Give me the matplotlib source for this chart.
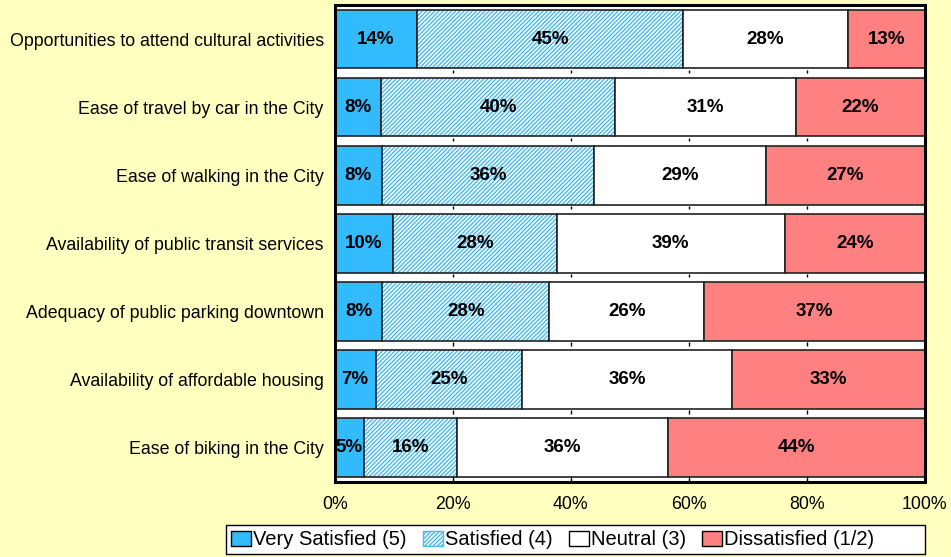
import numpy as np
import matplotlib.pyplot as plt
from matplotlib.patches import Patch, Rectangle

plt.rcParams['font.family'] = ['Liberation Sans', 'DejaVu Sans']
plt.rcParams['hatch.linewidth'] = 1.0

categories = ['Opportunities to attend cultural activities',
              'Ease of travel by car in the City',
              'Ease of walking in the City',
              'Availability of public transit services',
              'Adequacy of public parking downtown',
              'Availability of affordable housing',
              'Ease of biking in the City']
very_satisfied = [14, 8, 8, 10, 8, 7, 5]
satisfied = [45, 40, 36, 28, 28, 25, 16]
neutral = [28, 31, 29, 39, 26, 36, 36]
dissatisfied = [13, 22, 27, 24, 37, 33, 44]
series_names = ['Very Satisfied (5)', 'Satisfied (4)', 'Neutral (3)', 'Dissatisfied (1/2)']
xtick_labels = ['0%', '20%', '40%', '60%', '80%', '100%']

bg = '#FFFFC0'
c_vs = '#33BBFF'
c_sat = '#45BCF2'
c_neu = '#FFFFFF'
c_dis = '#FF8080'

raw = np.array([very_satisfied, satisfied, neutral, dissatisfied], dtype=float)
pct = raw / raw.sum(axis=0) * 100  # 100% stacked like excel

fig = plt.figure(figsize=(9.51, 5.57), dpi=100, facecolor=bg)
ax = fig.add_axes([0.352, 0.135, 0.6205, 0.856])
ax.set_facecolor('white')

y = np.arange(len(categories))
h = 0.86
left = np.zeros(len(categories))
for i in range(4):
    if i == 1:
        ax.barh(y, pct[i], h, left=left, color='white', edgecolor=c_sat,
                hatch='////////', linewidth=0)
        ax.barh(y, pct[i], h, left=left, fill=False, edgecolor='#222222', linewidth=1.2)
    else:
        col = [c_vs, None, c_neu, c_dis][i]
        ax.barh(y, pct[i], h, left=left, color=col, edgecolor='#222222', linewidth=1.2)
    for j in range(len(categories)):
        ax.text(left[j] + pct[i][j] / 2, y[j], f'{int(raw[i][j])}%', ha='center', va='center',
                fontsize=13.5, fontweight='bold', color='black')
    left += pct[i]

# small tick marks at the top of each gap, as in the original
ticks = np.arange(0, 101, 20)
for j in range(len(categories)):
    ax.vlines(ticks[1:-1], y[j] + 0.5 - 0.05, y[j] + 0.5, color='black', linewidth=1)

ax.set_xlim(0, 100)
ax.set_ylim(len(categories) - 0.5, -0.5)
ax.set_yticks(y)
ax.set_yticklabels(categories, fontsize=12.8)
ax.set_xticks(ticks)
ax.set_xticklabels(xtick_labels, fontsize=12.8)
ax.tick_params(axis='y', length=0, pad=8)
ax.tick_params(axis='x', direction='in', length=4, pad=10)
for s in ax.spines.values():
    s.set_linewidth(2.2)
    s.set_color('black')

# legend box (excel leaves extra room on the right)
fig.patches.append(Rectangle((226 / 951, 1 - 554 / 557), 699 / 951, 29 / 557,
                             transform=fig.transFigure, facecolor='white',
                             edgecolor='black', linewidth=1.0, zorder=0))

handles = [Patch(facecolor=c_vs, edgecolor='black'),
           Patch(facecolor='white', edgecolor=c_sat, hatch='////////'),
           Patch(facecolor=c_neu, edgecolor='black'),
           Patch(facecolor=c_dis, edgecolor='black')]
leg = fig.legend(handles, series_names, loc='center', bbox_to_anchor=(0.581, 0.031),
                 ncol=4, fontsize=14.5, frameon=False,
                 handlelength=1.0, handleheight=0.8, handletextpad=0.1, columnspacing=0.8,
                 borderpad=0.25, borderaxespad=0)

fig.savefig('out.png', dpi=100, facecolor=bg)
